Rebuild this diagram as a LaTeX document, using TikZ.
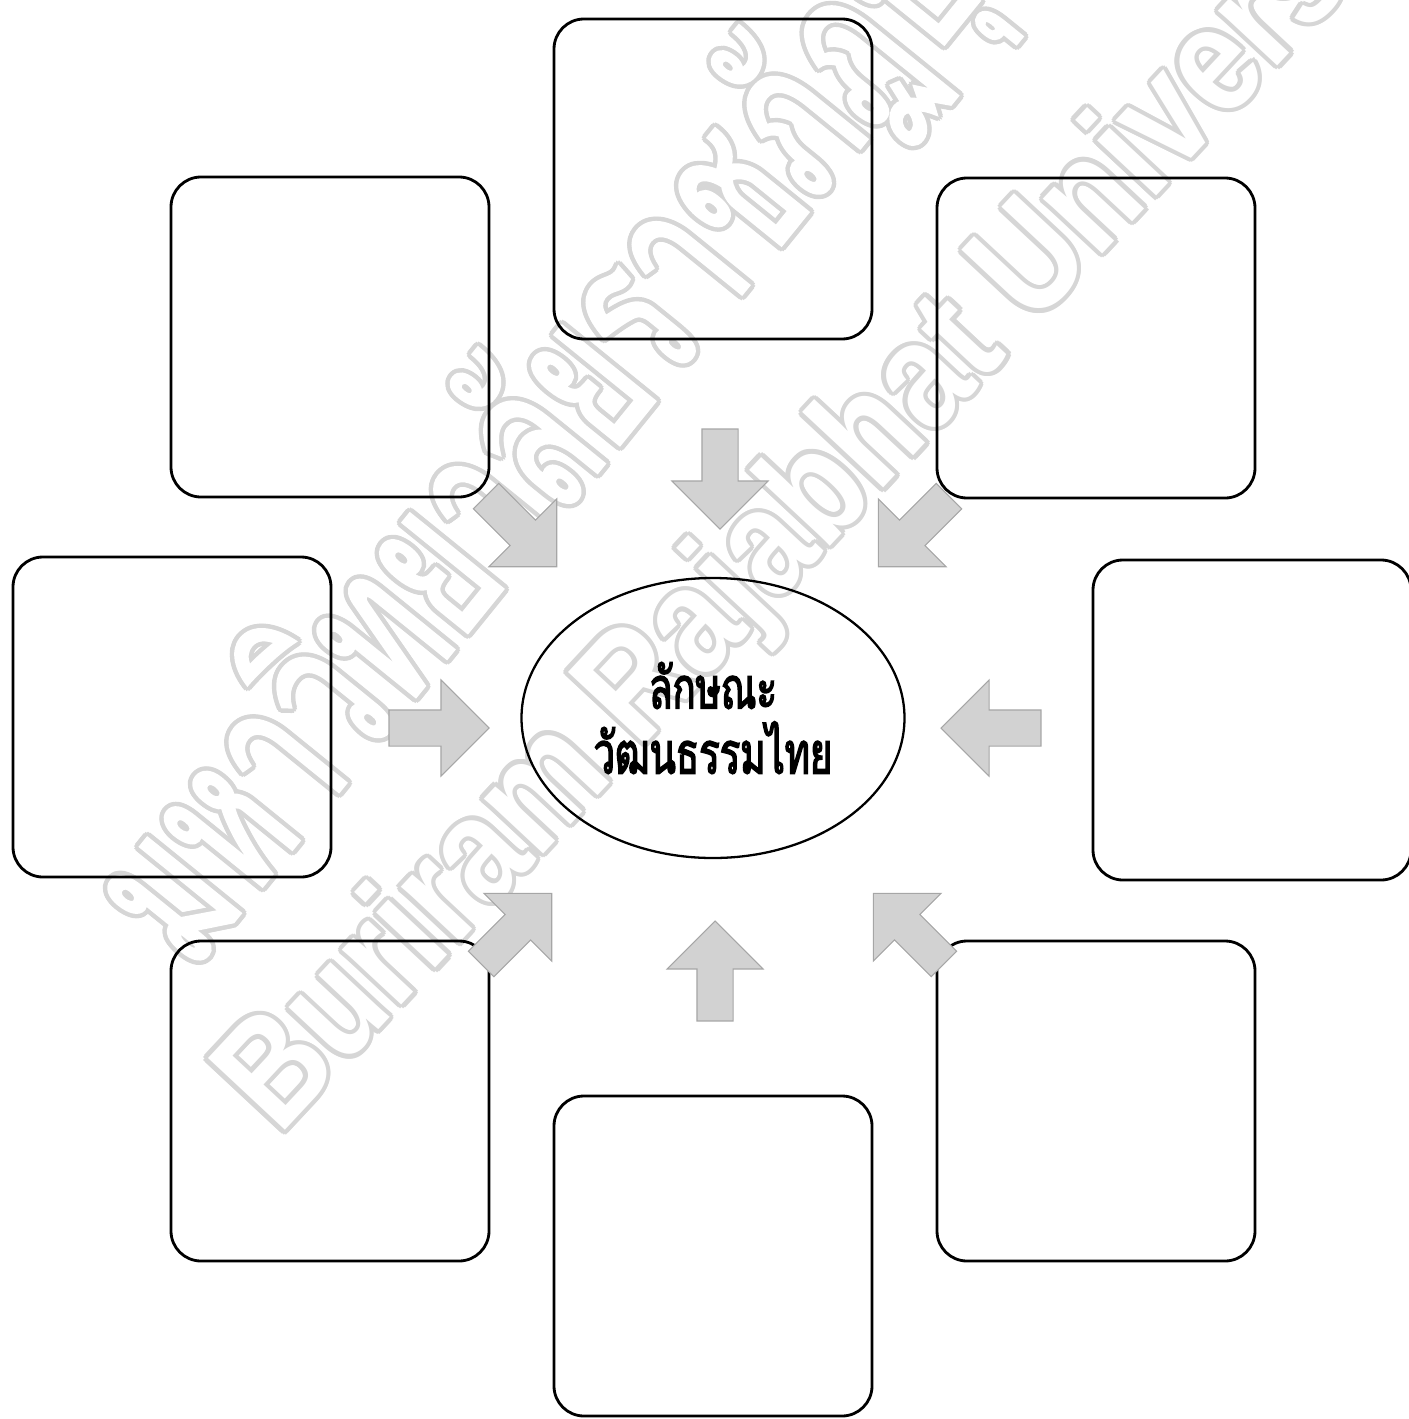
\documentclass[tikz,border=0pt]{standalone}
\usepackage{fontspec}
\usepackage{tikz}
\usetikzlibrary{shapes.geometric,shapes.arrows}
\newfontfamily\thaicore[Script=Thai,FakeStretch=0.66,FakeBold=2.5]{Loma}
\newfontfamily\thaimark[Script=Thai,FakeStretch=0.64,FakeBold=1.5]{Loma}
\newfontfamily\latinmark[FakeStretch=0.84]{Liberation Sans}

\begin{document}
\begin{tikzpicture}[x=0.2mm,y=-0.2mm,
  cellbox/.style={draw=black,line width=1.6pt,rounded corners=6mm,minimum width=63.6mm,minimum height=64mm,inner sep=0pt},
  core/.style={ellipse,draw=black,line width=1.3pt,minimum width=76.6mm,minimum height=56mm,inner sep=0pt,align=center,font=\thaicore\fontsize{33}{37}\selectfont},
  inarrow/.style={single arrow,draw=gray!70,fill=gray!35,line width=0.6pt,minimum height=20mm,inner xsep=0pt,inner ysep=3.5mm,single arrow head extend=6mm},
  wmark/.style={anchor=west,inner sep=0pt,text=gray!32},
  wmth/.style={wmark,rotate=51,font=\thaimark\fontsize{122}{122}\selectfont},
  wmen/.style={wmark,rotate=47,font=\latinmark\bfseries\fontsize{87}{87}\selectfont}]
  \useasboundingbox (0,0) rectangle (1409,1419);
  % watermark, hollow letters
  \begin{scope}
    \clip (0,0) rectangle (1409,1419);
    \foreach \a in {0,30,...,330}{
      \node[wmth,shift={(\a:0.9mm)}] (wmTh-\a) at (140,932) {มหาวิทยาลัยราชภัฏบุรีรัมย์};
      \node[wmen,shift={(\a:0.9mm)}] (wmEn-\a) at (250,1110) {Buriram Rajabhat University};
    }
    \node[wmth,text=white] (wmTh) at (140,932) {มหาวิทยาลัยราชภัฏบุรีรัมย์};
    \node[wmen,text=white] (wmEn) at (250,1110) {Buriram Rajabhat University};
  \end{scope}
  % the eight empty boxes
  \node[cellbox] (bxN)  at (713,179)  {};
  \node[cellbox] (bxNW) at (330,337)  {};
  \node[cellbox] (bxNE) at (1096,338) {};
  \node[cellbox] (bxW)  at (172,717)  {};
  \node[cellbox] (bxE)  at (1252,720) {};
  \node[cellbox] (bxSW) at (330,1101) {};
  \node[cellbox] (bxSE) at (1096,1101) {};
  \node[cellbox] (bxS)  at (713,1256) {};
  % centre
  \node[core] (core) at (713,718) {ลักษณะ\\วัฒนธรรมไทย};
  % block arrows pointing in
  \node[inarrow,rotate=-90]  (arN)  at (720,470)  {};
  \node[inarrow,rotate=90]   (arS)  at (715,980)  {};
  \node[inarrow,rotate=0]    (arW)  at (430,728)  {};
  \node[inarrow,rotate=180]  (arE)  at (1000,728) {};
  \node[inarrow,rotate=-45]  (arNW) at (515,525)  {};
  \node[inarrow,rotate=-135] (arNE) at (920,525)  {};
  \node[inarrow,rotate=45]   (arSW) at (510,935)  {};
  \node[inarrow,rotate=135]  (arSE) at (915,935)  {};
\end{tikzpicture}
\end{document}
